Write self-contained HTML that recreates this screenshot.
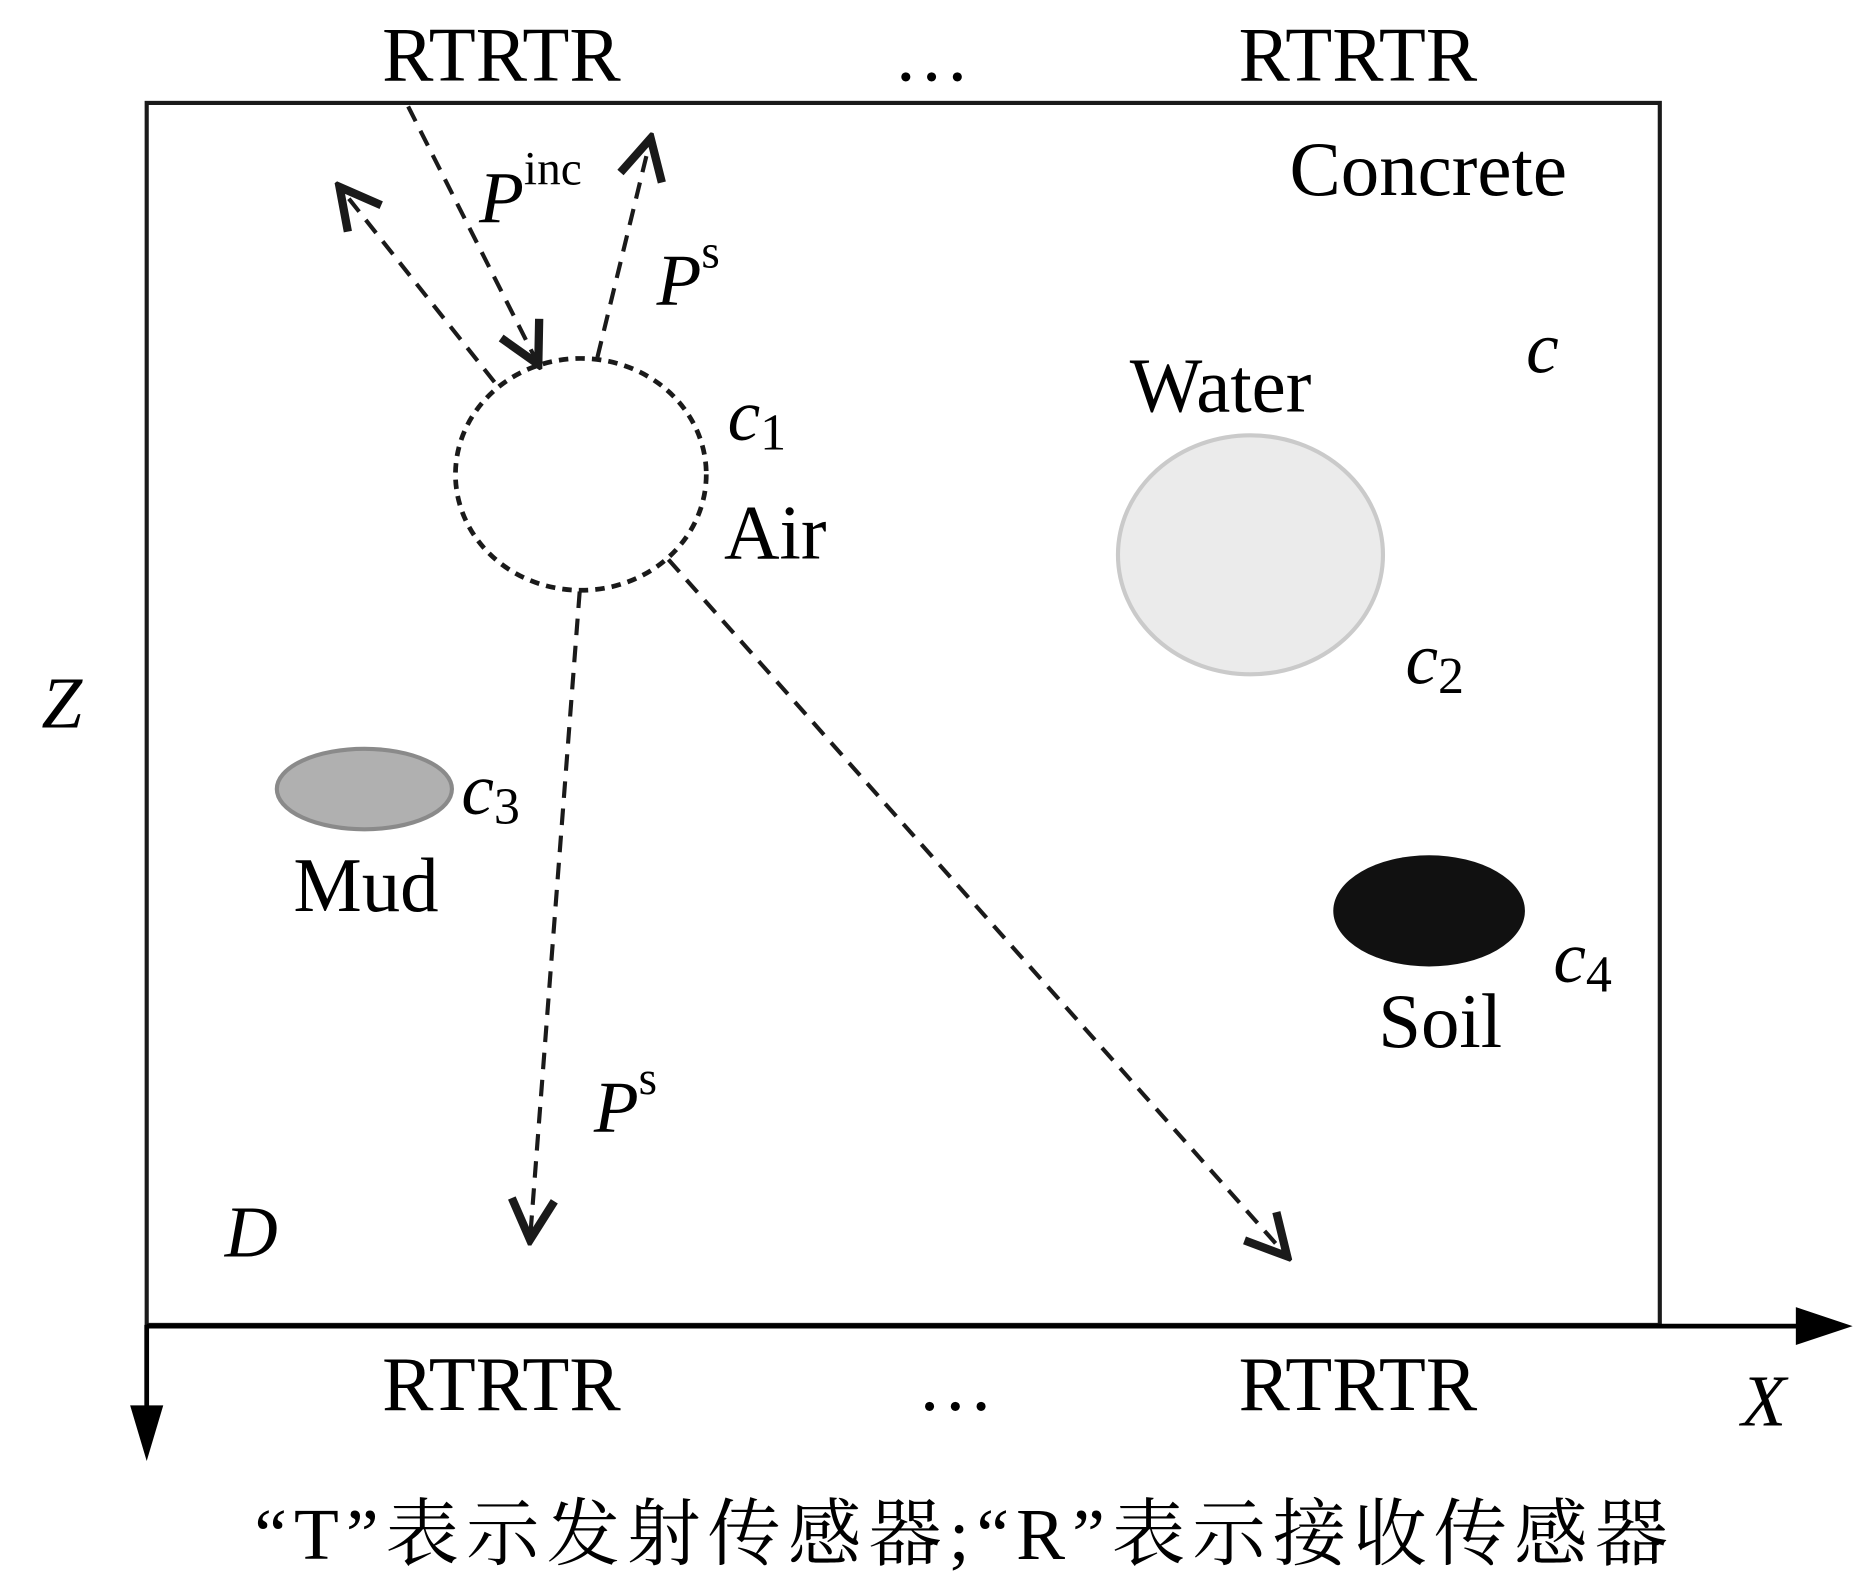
<!DOCTYPE html>
<html><head><meta charset="utf-8"><style>html,body{margin:0;padding:0;background:#fff}svg{display:block}</style></head>
<body>
<svg width="1855" height="1584" viewBox="0 0 1568 1339" preserveAspectRatio="none" xmlns="http://www.w3.org/2000/svg" font-family="Liberation Serif, serif">
<defs>
<marker id="v" viewBox="-40 -25 45 50" refX="0" refY="0" markerWidth="45" markerHeight="50" markerUnits="userSpaceOnUse" orient="auto">
<path d="M-34,-18 L0,0 L-34,18" fill="none" stroke="#1a1a1a" stroke-width="7"/>
</marker>
</defs>
<rect x="124" y="87" width="1279" height="1033" fill="none" stroke="#1a1a1a" stroke-width="3.5"/>
<line x1="124" y1="1121" x2="1522" y2="1121" stroke="#000" stroke-width="4"/>
<polygon points="1518,1105 1566,1121 1518,1137" fill="#000"/>
<line x1="124" y1="1120" x2="124" y2="1195" stroke="#000" stroke-width="4"/>
<polygon points="110,1188 124,1235 138,1188" fill="#000"/>
<g font-size="65">
<text x="323" y="68">RTRTR</text>
<text x="1047" y="68">RTRTR</text>
<text x="755" y="68">…</text>
<text x="323" y="1192">RTRTR</text>
<text x="1047" y="1192">RTRTR</text>
<text x="775" y="1192">…</text>
<text x="1090" y="165">Concrete</text>
<text x="955" y="348">Water</text>
<text x="612" y="472">Air</text>
<text x="248" y="770">Mud</text>
<text x="1165" y="885">Soil</text>
</g>
<g font-size="62" font-style="italic">
<text x="1290" y="315">c</text>
<text x="615" y="372">c<tspan font-style="normal" font-size="44" dy="8">1</tspan></text>
<text x="1188" y="578">c<tspan font-style="normal" font-size="44" dy="8">2</tspan></text>
<text x="390" y="688">c<tspan font-style="normal" font-size="44" dy="8">3</tspan></text>
<text x="1313" y="830">c<tspan font-style="normal" font-size="44" dy="8">4</tspan></text>
<text x="35" y="615">Z</text>
<text x="1472" y="1205">X</text>
<text x="190" y="1062">D</text>
<text x="405" y="188">P<tspan font-style="normal" font-size="40" dy="-32">inc</tspan></text>
<text x="555" y="258">P<tspan font-style="normal" font-size="40" dy="-32">s</tspan></text>
<text x="502" y="957">P<tspan font-style="normal" font-size="40" dy="-32">s</tspan></text>
</g>
<ellipse cx="1057" cy="469" rx="112" ry="101" fill="#ebebeb" stroke="#cacaca" stroke-width="3.5"/>
<ellipse cx="308" cy="667" rx="74" ry="34" fill="#b0b0b0" stroke="#8a8a8a" stroke-width="3.5"/>
<ellipse cx="1208" cy="770" rx="81" ry="47" fill="#111"/>
<ellipse cx="491" cy="401" rx="106" ry="98" fill="none" stroke="#1a1a1a" stroke-width="4" stroke-dasharray="8,6"/>
<g stroke="#1a1a1a" stroke-width="3.5" stroke-dasharray="14,9" fill="none" marker-end="url(#v)">
<line x1="345" y1="90" x2="455" y2="308"/>
<line x1="418" y1="323" x2="287" y2="158"/>
<line x1="505" y1="302" x2="550" y2="117"/>
<line x1="490" y1="500" x2="448" y2="1048"/>
<line x1="565" y1="473" x2="1088" y2="1062"/>
</g>
<text x="215" y="1318" font-size="62" font-family="Liberation Serif, Noto Serif CJK SC, serif" textLength="1195">“T”表示发射传感器;“R”表示接收传感器</text>
</svg>
</body></html>
